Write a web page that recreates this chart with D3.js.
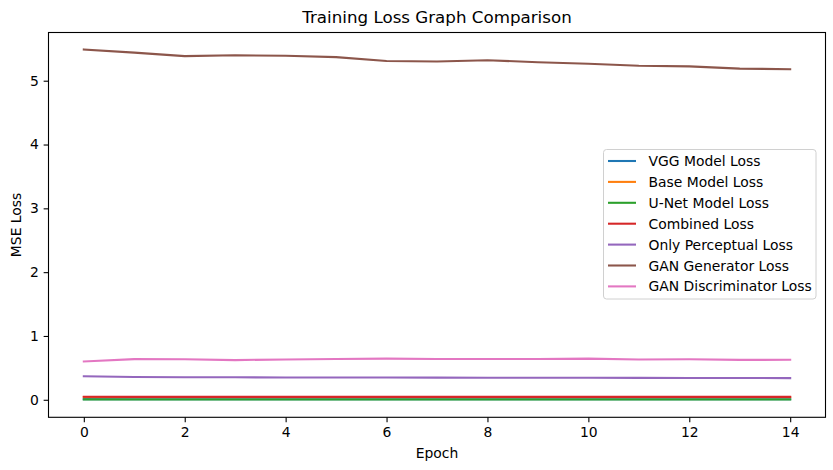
<!DOCTYPE html>
<html>
<head>
<meta charset="utf-8">
<script src="https://cdn.jsdelivr.net/npm/d3@7"></script>
<style>
  body { margin: 0; background: #fff; }
  svg { font-family: "DejaVu Sans", sans-serif; }
</style>
</head>
<body>
<div id="chart"></div>
<script>
// Chart data
const epochs = [0, 1, 2, 3, 4, 5, 6, 7, 8, 9, 10, 11, 12, 13, 14];
const vggLoss = [0.010, 0.009, 0.009, 0.009, 0.008, 0.008, 0.008, 0.008, 0.008, 0.008, 0.008, 0.008, 0.008, 0.008, 0.008];
const baseLoss = [0.042, 0.040, 0.040, 0.039, 0.039, 0.039, 0.039, 0.039, 0.039, 0.039, 0.039, 0.039, 0.039, 0.039, 0.039];
const unetLoss = [0.004, 0.004, 0.004, 0.004, 0.004, 0.004, 0.004, 0.004, 0.004, 0.004, 0.004, 0.004, 0.004, 0.004, 0.004];
const combinedLoss = [0.048, 0.046, 0.046, 0.045, 0.045, 0.045, 0.045, 0.045, 0.045, 0.045, 0.045, 0.045, 0.045, 0.045, 0.045];
const perceptualLoss = [0.368, 0.357, 0.354, 0.352, 0.350, 0.349, 0.348, 0.347, 0.346, 0.345, 0.344, 0.343, 0.342, 0.341, 0.340];
const ganGenLoss = [5.49, 5.44, 5.385, 5.40, 5.39, 5.37, 5.31, 5.30, 5.32, 5.29, 5.265, 5.235, 5.225, 5.19, 5.18];
const ganDiscLoss = [0.60, 0.637, 0.635, 0.622, 0.632, 0.640, 0.645, 0.640, 0.638, 0.638, 0.645, 0.630, 0.636, 0.625, 0.626];

const seriesNames = ["VGG Model Loss", "Base Model Loss", "U-Net Model Loss", "Combined Loss",
  "Only Perceptual Loss", "GAN Generator Loss", "GAN Discriminator Loss"];
const seriesValues = [vggLoss, baseLoss, unetLoss, combinedLoss, perceptualLoss, ganGenLoss, ganDiscLoss];
const colors = ["#1f77b4", "#ff7f0e", "#2ca02c", "#d62728", "#9467bd", "#8c564b", "#e377c2"];

const xTicks = [0, 2, 4, 6, 8, 10, 12, 14];
const yTicks = [0, 1, 2, 3, 4, 5];

const width = 833, height = 470;
const margin = { top: 32.5, left: 48.5, right: 7.5, bottom: 52.7 };
const innerW = width - margin.left - margin.right;
const innerH = height - margin.top - margin.bottom;

const svg = d3.select("#chart")
  .append("svg")
  .attr("width", width)
  .attr("height", height);

// Scales with matplotlib-like 5% padding
const x = d3.scaleLinear().domain([-0.7, 14.7]).range([0, innerW]);
const y = d3.scaleLinear().domain([-0.2745, 5.7555]).range([innerH, 0]);

const g = svg.append("g")
  .attr("transform", `translate(${margin.left},${margin.top})`);

// Lines
const line = d3.line()
  .x((d, i) => x(epochs[i]))
  .y((d) => y(d));

seriesValues.forEach((vals, k) => {
  g.append("path")
    .datum(vals)
    .attr("fill", "none")
    .attr("stroke", colors[k])
    .attr("stroke-width", 2.08)
    .attr("stroke-linejoin", "round")
    .attr("stroke-linecap", "square")
    .attr("d", line);
});

// Axes
const xAxis = g.append("g")
  .attr("transform", `translate(0,${innerH})`)
  .call(d3.axisBottom(x).tickValues(xTicks).tickFormat(d3.format("d"))
    .tickSize(4.86).tickPadding(4.86).tickSizeOuter(0));
const yAxis = g.append("g")
  .call(d3.axisLeft(y).tickValues(yTicks).tickFormat(d3.format("d"))
    .tickSize(4.86).tickPadding(4.86).tickSizeOuter(0));

[xAxis, yAxis].forEach((ax) => {
  ax.select(".domain").remove();
  ax.selectAll(".tick line").attr("stroke", "#000").attr("stroke-width", 1.1);
  ax.selectAll(".tick text")
    .attr("fill", "#000")
    .style("font-size", "13.9px")
    .style("font-family", "DejaVu Sans");
});

// Frame
g.append("rect")
  .attr("width", innerW)
  .attr("height", innerH)
  .attr("fill", "none")
  .attr("stroke", "#000")
  .attr("stroke-width", 1.1);

// Title and labels
svg.append("text")
  .attr("x", margin.left + innerW / 2)
  .attr("y", 23)
  .attr("text-anchor", "middle")
  .style("font-size", "16.7px")
  .text("Training Loss Graph Comparison");

svg.append("text")
  .attr("x", margin.left + innerW / 2)
  .attr("y", 458)
  .attr("text-anchor", "middle")
  .style("font-size", "13.9px")
  .text("Epoch");

svg.append("text")
  .attr("transform", `translate(21,${margin.top + innerH / 2}) rotate(-90)`)
  .attr("text-anchor", "middle")
  .style("font-size", "13.9px")
  .text("MSE Loss");

// Legend
const legend = svg.append("g").attr("transform", "translate(603.5,149.5)");
legend.append("rect")
  .attr("width", 212.5)
  .attr("height", 149.5)
  .attr("rx", 3)
  .attr("fill", "#fff")
  .attr("fill-opacity", 0.8)
  .attr("stroke", "#d0d0d0")
  .attr("stroke-width", 1);

seriesNames.forEach((name, k) => {
  const row = legend.append("g").attr("transform", `translate(0,${11.5 + k * 20.9})`);
  row.append("line")
    .attr("x1", 4.5).attr("x2", 32.5)
    .attr("stroke", colors[k])
    .attr("stroke-width", 2.08);
  row.append("text")
    .attr("x", 45)
    .attr("dy", "0.36em")
    .style("font-size", "13.9px")
    .text(name);
});
</script>
</body>
</html>
